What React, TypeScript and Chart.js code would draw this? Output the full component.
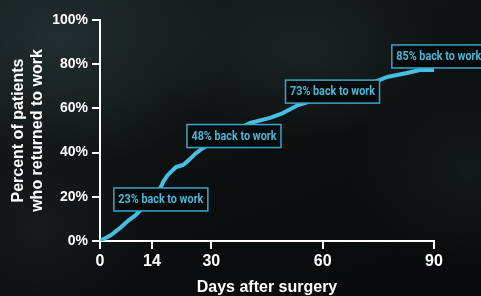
import React, { useEffect, useRef } from "react";
import { Chart, registerables } from "chart.js";

Chart.register(...registerables);

// Days after surgery vs percent of patients back to work
const days = [0, 3.0, 5.7, 7.8, 9.7, 16.4, 17.0, 18.3, 19.1, 20.5, 22.4, 24.0, 25.9, 27.8, 40.4, 45.8, 49.3, 53.4, 75.5, 77.3, 82.7, 86.2, 90];
const percents = [0, 2.7, 6.3, 9.5, 11.8, 24.4, 26.7, 29.9, 31.2, 33.5, 34.4, 36.7, 39.8, 42.1, 53.4, 55.7, 57.9, 61.5, 72.9, 74.2, 76.0, 77.4, 77.4];

const xTicks = [0, 14, 30, 60, 90];
const yTicks = [0, 20, 40, 60, 80, 100];

const labelTexts = ["23% back to work", "48% back to work", "73% back to work", "85% back to work"];
const labelDays = [16.4, 36.1, 62.65, 91.3];
const labelPcts = [18.8, 47.5, 67.6, 83.5];

const LINE = "#47bfe3";
const LABEL_TEXT = "#4cb6d7";
const LABEL_BORDER = "#3aa6c6";
const FONT = "'Liberation Sans', Arial, sans-serif";

const labelPlugin = {
  id: "backToWorkLabels",
  afterDatasetsDraw(chart: any) {
    const { ctx, scales } = chart;
    const xs = scales.x;
    const ys = scales.y;
    ctx.save();
    labelTexts.forEach((t, i) => {
      const cx = xs.getPixelForValue(labelDays[i]);
      const cy = ys.getPixelForValue(labelPcts[i]);
      const w = 94;
      const h = 23;
      ctx.fillStyle = "#05090a";
      ctx.fillRect(cx - w / 2, cy - h / 2, w, h);
      ctx.strokeStyle = LABEL_BORDER;
      ctx.lineWidth = 1.5;
      ctx.strokeRect(cx - w / 2, cy - h / 2, w, h);
      ctx.fillStyle = LABEL_TEXT;
      ctx.font = "bold 12.5px Roboto, 'Liberation Sans', Arial, sans-serif";
      ctx.textAlign = "center";
      ctx.textBaseline = "middle";
      ctx.fillText(t, cx, cy + 0.5, 85);
    });
    ctx.restore();
  },
};

export default function App() {
  const canvasRef = useRef<HTMLCanvasElement | null>(null);

  useEffect(() => {
    document.body.style.margin = "0";
    const canvas = canvasRef.current;
    if (!canvas) return;
    Chart.defaults.font.family = FONT;
    const chart = new Chart(canvas, {
      type: "line",
      data: {
        datasets: [
          {
            data: days.map((d, i) => ({ x: d, y: percents[i] })),
            borderColor: LINE,
            borderWidth: 4,
            pointRadius: 0,
            tension: 0,
            fill: false,
            borderJoinStyle: "round",
          },
        ],
      },
      options: {
        animation: false,
        responsive: false,
        maintainAspectRatio: false,
        layout: { padding: { top: 20, right: 47, left: 0, bottom: 0 } },
        plugins: { legend: { display: false }, tooltip: { enabled: false } },
        scales: {
          x: {
            type: "linear",
            min: 0,
            max: 90,
            afterBuildTicks: (scale: any) => {
              scale.ticks = xTicks.map((v) => ({ value: v }));
            },
            afterFit: (scale: any) => {
              scale.height = 55;
            },
            ticks: {
              color: "#ffffff",
              font: { size: 16, weight: "bold" },
              padding: 3,
              maxRotation: 0,
              autoSkip: false,
            },
            grid: {
              color: "#ffffff",
              lineWidth: 2,
              drawOnChartArea: false,
              tickLength: 8,
            },
            border: { color: "#ffffff", width: 2 },
            title: {
              display: true,
              text: "Days after surgery",
              color: "#ffffff",
              font: { size: 16, weight: "bold", lineHeight: 1 },
              padding: { top: 0, bottom: 0 },
            },
          },
          y: {
            type: "linear",
            min: 0,
            max: 100,
            afterBuildTicks: (scale: any) => {
              scale.ticks = yTicks.map((v) => ({ value: v }));
            },
            afterFit: (scale: any) => {
              scale.width = 100;
            },
            ticks: {
              color: "#ffffff",
              font: { size: 14, weight: "bold" },
              padding: 4,
              callback: (v: any) => v + "%",
            },
            grid: {
              color: "#ffffff",
              lineWidth: 2,
              drawOnChartArea: false,
              tickLength: 8,
            },
            border: { color: "#ffffff", width: 2 },
            title: {
              display: true,
              text: ["Percent of patients", "who returned to work"],
              color: "#ffffff",
              font: { size: 16, weight: "bold", lineHeight: 1.2 },
              padding: { top: 9, bottom: 0 },
            },
          },
        },
      },
      plugins: [labelPlugin],
    } as any);
    return () => chart.destroy();
  }, []);

  return (
    <div
      style={{
        position: "fixed",
        left: 0,
        top: 0,
        width: 481,
        height: 296,
        overflow: "hidden",
        background:
          "radial-gradient(ellipse 170px 130px at 60px 40px, rgba(40,52,52,0.75), rgba(0,0,0,0) 100%)," +
          "radial-gradient(ellipse 150px 90px at 300px 50px, rgba(34,44,44,0.6), rgba(0,0,0,0) 100%)," +
          "radial-gradient(ellipse 120px 100px at 470px 170px, rgba(30,40,40,0.5), rgba(0,0,0,0) 100%)," +
          "radial-gradient(ellipse 110px 90px at 40px 230px, rgba(30,38,38,0.5), rgba(0,0,0,0) 100%)," +
          "linear-gradient(160deg, #151b1b 0%, #0b0f10 55%, #07090a 100%)",
      }}
    >
      <canvas ref={canvasRef} width={481} height={296} style={{ display: "block" }} />
    </div>
  );
}
